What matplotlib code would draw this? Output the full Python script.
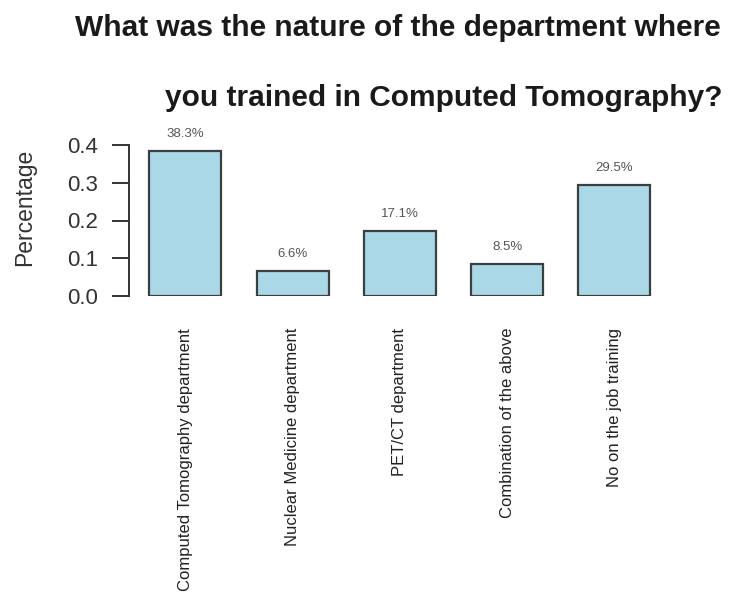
import matplotlib
matplotlib.use("Agg")
import matplotlib.pyplot as plt

categories = ["Computed Tomography department", "Nuclear Medicine department",
              "PET/CT department", "Combination of the above", "No on the job training"]
values = [0.383, 0.066, 0.171, 0.085, 0.295]
labels = ["38.3%", "6.6%", "17.1%", "8.5%", "29.5%"]
yticks = [0.0, 0.1, 0.2, 0.3, 0.4]

plt.rcParams['font.family'] = ['Liberation Sans', 'DejaVu Sans']
W, H = 736, 601
fig = plt.figure(figsize=(W/100, H/100), dpi=100)
ax = fig.add_axes([129/W, 1-296/H, (668-129)/W, (296-145)/H])

x = list(range(len(values)))
ax.bar(x, values, width=0.67, color='#aad8e6', edgecolor='#3a3f44', linewidth=1.6)
ax.set_xlim(-0.525, 4.50)
ax.set_ylim(0, 0.4)
for xi, v, lab in zip(x, values, labels):
    ax.annotate(lab, (xi, v), xytext=(0, 8), textcoords='offset points',
                ha='center', va='bottom', fontsize=9.5, color='#555555', annotation_clip=False)

for s in ['top', 'right', 'bottom']:
    ax.spines[s].set_visible(False)
ax.spines['left'].set_color('#333333')
ax.spines['left'].set_linewidth(1.4)
ax.set_yticks(yticks)
ax.set_yticklabels([f"{t:.1f}" for t in yticks])
ax.tick_params(axis='y', length=12, width=1.4, color='#333333', labelsize=16,
               labelcolor='#333333', pad=10)
ax.set_xticks(x)
ax.set_xticklabels(categories, rotation=90, fontsize=12, color='#222222', va='top')
ax.tick_params(axis='x', length=0, pad=23)

fig.text(25/W, 1-207/H, "Percentage", rotation=90, ha='center', va='center',
         fontsize=16.5, color='#333333')

fig.text(75/W, 1-28/H, "What was the nature of the department where", ha='left', va='center',
         fontsize=21.5, fontweight='bold', color='#1a1a1a')
fig.text(165/W, 1-98/H, "you trained in Computed Tomography?", ha='left', va='center',
         fontsize=21.5, fontweight='bold', color='#1a1a1a')

fig.savefig("out.png", dpi=100)
